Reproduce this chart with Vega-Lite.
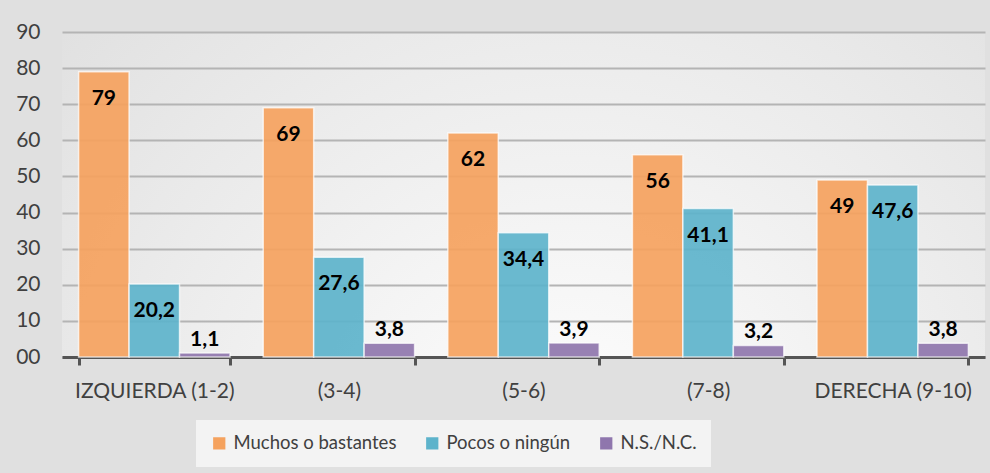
{
  "$schema": "https://vega.github.io/schema/vega-lite/v6.json",
  "autosize": "none",
  "width": 923,
  "height": 325,
  "padding": {"left": 62, "top": 32, "right": 5, "bottom": 116},
  "background": "#e0e0e0",
  "config": {
    "view": {"stroke": null, "fill": {"gradient": "radial", "x1": 0.55, "y1": 0.8, "x2": 0.55, "y2": 0.8, "r1": 0, "r2": 0.75, "stops": [{"offset": 0, "color": "#ffffff"}, {"offset": 1, "color": "#e0e0e0"}]}},
    "font": "Lato"
  },
  "data": {
    "values": [
      {"grupo": "IZQUIERDA (1-2)", "serie": "Muchos o bastantes", "valor": 79},
      {"grupo": "IZQUIERDA (1-2)", "serie": "Pocos o ningún", "valor": 20.2},
      {"grupo": "IZQUIERDA (1-2)", "serie": "N.S./N.C.", "valor": 1.1},
      {"grupo": "(3-4)", "serie": "Muchos o bastantes", "valor": 69},
      {"grupo": "(3-4)", "serie": "Pocos o ningún", "valor": 27.6},
      {"grupo": "(3-4)", "serie": "N.S./N.C.", "valor": 3.8},
      {"grupo": "(5-6)", "serie": "Muchos o bastantes", "valor": 62},
      {"grupo": "(5-6)", "serie": "Pocos o ningún", "valor": 34.4},
      {"grupo": "(5-6)", "serie": "N.S./N.C.", "valor": 3.9},
      {"grupo": "(7-8)", "serie": "Muchos o bastantes", "valor": 56},
      {"grupo": "(7-8)", "serie": "Pocos o ningún", "valor": 41.1},
      {"grupo": "(7-8)", "serie": "N.S./N.C.", "valor": 3.2},
      {"grupo": "DERECHA (9-10)", "serie": "Muchos o bastantes", "valor": 49},
      {"grupo": "DERECHA (9-10)", "serie": "Pocos o ningún", "valor": 47.6},
      {"grupo": "DERECHA (9-10)", "serie": "N.S./N.C.", "valor": 3.8}
    ]
  },
  "transform": [{"calculate": "replace(toString(datum.valor), '.', ',')", "as": "etiqueta"}],
  "encoding": {
    "x": {
      "field": "grupo", "type": "nominal",
      "sort": ["IZQUIERDA (1-2)", "(3-4)", "(5-6)", "(7-8)", "DERECHA (9-10)"],
      "scale": {"paddingInner": 0.18, "paddingOuter": 0.09},
      "axis": {
        "title": null, "labelAngle": 0, "labelFontSize": 21, "labelColor": "#404040", "labelPadding": 15, "labelLimit": 300,
        "domainColor": "#555555", "domainWidth": 3, "tickColor": "#555555", "tickWidth": 3, "tickSize": 8, "tickBand": "extent"
      }
    },
    "xOffset": {"field": "serie", "type": "nominal", "sort": ["Muchos o bastantes", "Pocos o ningún", "N.S./N.C."], "scale": {"paddingInner": 0, "paddingOuter": 0}},
    "y": {
      "field": "valor", "type": "quantitative",
      "scale": {"domain": [0, 90], "nice": false},
      "axis": {
        "title": null, "values": [0, 10, 20, 30, 40, 50, 60, 70, 80, 90],
        "labelExpr": "datum.value == 0 ? '00' : datum.label",
        "labelFontSize": 21, "labelColor": "#404040", "labelPadding": 22,
        "domain": false, "ticks": false, "gridColor": "#b4b4b4", "gridWidth": 2
      }
    }
  },
  "layer": [
    {
      "mark": {"type": "bar", "stroke": "#ffffff", "strokeWidth": 1.5, "strokeOpacity": 0.7, "fillOpacity": 0.92},
      "encoding": {
        "color": {
          "field": "serie", "type": "nominal",
          "sort": ["Muchos o bastantes", "Pocos o ningún", "N.S./N.C."],
          "scale": {"domain": ["Muchos o bastantes", "Pocos o ningún", "N.S./N.C."], "range": ["#f5a25e", "#5db3cb", "#8f76ad"]},
          "legend": {
            "title": null, "orient": "none", "direction": "horizontal", "legendX": 134, "legendY": 388,
            "symbolType": "square", "symbolSize": 150, "symbolStrokeWidth": 0, "labelFontSize": 18.5, "labelColor": "#404040", "labelLimit": 400,
            "columnPadding": 26, "fillColor": "#f3f3f3", "padding": 14, "labelOffset": 5
          }
        }
      }
    },
    {
      "transform": [{"filter": "datum.valor >= 10"}],
      "mark": {"type": "text", "baseline": "middle", "dy": 27, "fontWeight": "bold", "fontSize": 21, "color": "#000000"},
      "encoding": {"text": {"field": "etiqueta"}}
    },
    {
      "transform": [{"filter": "datum.valor < 10"}],
      "mark": {"type": "text", "baseline": "middle", "dy": -13, "fontWeight": "bold", "fontSize": 21, "color": "#000000"},
      "encoding": {"text": {"field": "etiqueta"}}
    }
  ]
}
